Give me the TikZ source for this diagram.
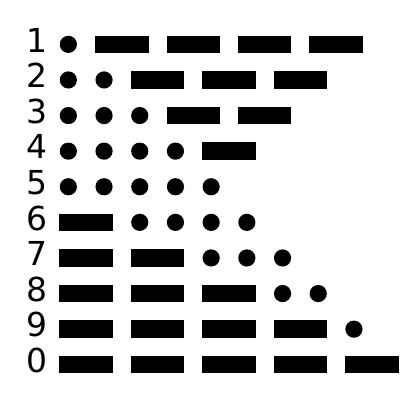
\documentclass[tikz,border=0pt]{standalone}
\usepackage{fontspec}
\setmainfont{DejaVu Sans}
\usepackage{tikz}

\begin{document}
\begin{tikzpicture}[x=1pt,y=-1pt,
		digit/.style={anchor=base,inner sep=0pt,font=\fontsize{33}{33}\selectfont},
		dit/.style={circle,fill=black,inner sep=0pt,minimum size=17.2pt},
		dah/.style={rectangle,fill=black,inner sep=0pt,minimum width=53.5pt,minimum height=17.3pt}]
				\useasboundingbox (0,0) rectangle (408,404);
				% digits
				\node[digit] (n1) at (37,52.15) {1};
				\node[digit] (n2) at (37,87.75) {2};
				\node[digit] (n3) at (37,123.35) {3};
				\node[digit] (n4) at (37,158.95) {4};
				\node[digit] (n5) at (37,194.55) {5};
				\node[digit] (n6) at (37,230.15) {6};
				\node[digit] (n7) at (37,265.75) {7};
				\node[digit] (n8) at (37,301.35) {8};
				\node[digit] (n9) at (37,336.95) {9};
				\node[digit] (n0) at (37,372.55) {0};
				% 1
				\node[dit] (r1a) at (68.35,44.35) {};
				\node[dah] (r1b) at (121.9,44.35) {};
				\node[dah] (r1c) at (193.3,44.35) {};
				\node[dah] (r1d) at (264.7,44.35) {};
				\node[dah] (r1e) at (336.1,44.35) {};
				% 2
				\node[dit] (r2a) at (68.35,79.95) {};
				\node[dit] (r2b) at (104.05,79.95) {};
				\node[dah] (r2c) at (157.6,79.95) {};
				\node[dah] (r2d) at (229.0,79.95) {};
				\node[dah] (r2e) at (300.4,79.95) {};
				% 3
				\node[dit] (r3a) at (68.35,115.55) {};
				\node[dit] (r3b) at (104.05,115.55) {};
				\node[dit] (r3c) at (139.75,115.55) {};
				\node[dah] (r3d) at (193.3,115.55) {};
				\node[dah] (r3e) at (264.7,115.55) {};
				% 4
				\node[dit] (r4a) at (68.35,151.15) {};
				\node[dit] (r4b) at (104.05,151.15) {};
				\node[dit] (r4c) at (139.75,151.15) {};
				\node[dit] (r4d) at (175.45,151.15) {};
				\node[dah] (r4e) at (229.0,151.15) {};
				% 5
				\node[dit] (r5a) at (68.35,186.75) {};
				\node[dit] (r5b) at (104.05,186.75) {};
				\node[dit] (r5c) at (139.75,186.75) {};
				\node[dit] (r5d) at (175.45,186.75) {};
				\node[dit] (r5e) at (211.15,186.75) {};
				% 6
				\node[dah] (r6a) at (86.2,222.35) {};
				\node[dit] (r6b) at (139.75,222.35) {};
				\node[dit] (r6c) at (175.45,222.35) {};
				\node[dit] (r6d) at (211.15,222.35) {};
				\node[dit] (r6e) at (246.85,222.35) {};
				% 7
				\node[dah] (r7a) at (86.2,257.95) {};
				\node[dah] (r7b) at (157.6,257.95) {};
				\node[dit] (r7c) at (211.15,257.95) {};
				\node[dit] (r7d) at (246.85,257.95) {};
				\node[dit] (r7e) at (282.55,257.95) {};
				% 8
				\node[dah] (r8a) at (86.2,293.55) {};
				\node[dah] (r8b) at (157.6,293.55) {};
				\node[dah] (r8c) at (229.0,293.55) {};
				\node[dit] (r8d) at (282.55,293.55) {};
				\node[dit] (r8e) at (318.25,293.55) {};
				% 9
				\node[dah] (r9a) at (86.2,329.15) {};
				\node[dah] (r9b) at (157.6,329.15) {};
				\node[dah] (r9c) at (229.0,329.15) {};
				\node[dah] (r9d) at (300.4,329.15) {};
				\node[dit] (r9e) at (353.95,329.15) {};
				% 0
				\node[dah] (r0a) at (86.2,364.75) {};
				\node[dah] (r0b) at (157.6,364.75) {};
				\node[dah] (r0c) at (229.0,364.75) {};
				\node[dah] (r0d) at (300.4,364.75) {};
				\node[dah] (r0e) at (371.8,364.75) {};
			\end{tikzpicture}
\end{document}
